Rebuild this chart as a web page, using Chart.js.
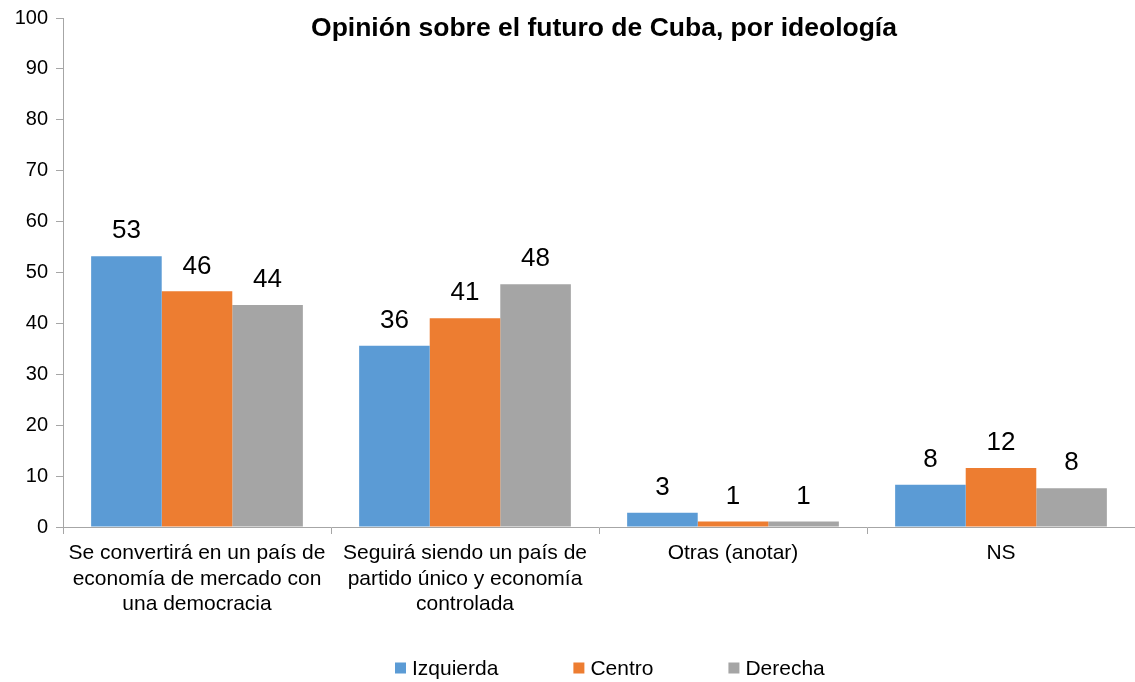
<!DOCTYPE html>
<html>
<head>
<meta charset="utf-8">
<script src="https://cdn.jsdelivr.net/npm/chart.js@4"></script>
<style>
  html, body { margin: 0; padding: 0; background: #fff; }
  #wrap { width: 1135px; height: 682px; }
</style>
</head>
<body>
<div id="wrap"><canvas id="chart"></canvas></div>
<script>
const categories = [
    ['Se convertirá en un país de', 'economía de mercado con', 'una democracia'],
    ['Seguirá siendo un país de', 'partido único y economía', 'controlada'],
    'Otras (anotar)',
    'NS'
];
const izquierda = [53.2, 35.6, 2.8, 8.3];
const centro = [46.3, 41.0, 1.1, 11.6];
const derecha = [43.6, 47.7, 1.1, 7.6];
const yTicks = [0, 10, 20, 30, 40, 50, 60, 70, 80, 90, 100];
const chartTitle = 'Opinión sobre el futuro de Cuba, por ideología';

const FONT = '"Liberation Sans", Arial, Helvetica, sans-serif';
const AXIS = '#A6A6A6';

// value labels over the bars
const valueLabels = {
    id: 'valueLabels',
    afterDatasetsDraw(chart) {
        const ctx = chart.ctx;
        ctx.save();
        ctx.font = '26px ' + FONT;
        ctx.fillStyle = '#000';
        ctx.textAlign = 'center';
        ctx.textBaseline = 'bottom';
        chart.data.datasets.forEach((ds, i) => {
            chart.getDatasetMeta(i).data.forEach((bar, j) => {
                ctx.fillText(Math.round(ds.data[j]), bar.x, bar.y - 12);
            });
        });
        ctx.restore();
    }
};

// title over the plot area and legend at the bottom
const titleAndLegend = {
    id: 'titleAndLegend',
    afterDraw(chart) {
        const ctx = chart.ctx;
        ctx.save();
        ctx.font = 'bold 26.5px ' + FONT;
        ctx.fillStyle = '#000';
        ctx.textAlign = 'center';
        ctx.textBaseline = 'middle';
        ctx.fillText(chartTitle, 604, 29);

        ctx.font = '21px ' + FONT;
        ctx.textAlign = 'left';
        const box = 11, gap = 6, spacing = 75;
        const items = chart.data.datasets.map(ds => ({
            text: ds.label, color: ds.backgroundColor,
            w: box + gap + ctx.measureText(ds.label).width
        }));
        let x = 395;
        const y = 668;
        items.forEach(it => {
            ctx.fillStyle = it.color;
            ctx.fillRect(x, y - box / 2, box, box);
            ctx.fillStyle = '#000';
            ctx.fillText(it.text, x + box + gap, y + 1);
            x += it.w + spacing;
        });
        ctx.restore();
    }
};

const ctx = document.getElementById('chart').getContext('2d');
new Chart(ctx, {
    type: 'bar',
    data: {
        labels: categories,
        datasets: [
            { label: 'Izquierda', data: izquierda, backgroundColor: '#5B9BD5' },
            { label: 'Centro', data: centro, backgroundColor: '#ED7D31' },
            { label: 'Derecha', data: derecha, backgroundColor: '#A5A5A5' }
        ]
    },
    options: {
        responsive: true,
        maintainAspectRatio: false,
        animation: false,
        categoryPercentage: 0.79,
        barPercentage: 1.0,
        layout: { padding: { top: 18, right: 0, bottom: 0, left: 0 } },
        plugins: {
            legend: { display: false },
            title: { display: false },
            tooltip: { enabled: false }
        },
        scales: {
            x: {
                grid: { drawOnChartArea: false, color: AXIS, tickLength: 7, offset: true },
                border: { color: AXIS, width: 1 },
                ticks: {
                    color: '#000',
                    font: { family: FONT, size: 21, lineHeight: 1.2 },
                    padding: 7,
                    maxRotation: 0,
                    autoSkip: false
                },
                afterFit(scale) { scale.height = 155; }
            },
            y: {
                min: 0,
                max: 100,
                afterBuildTicks(scale) { scale.ticks = yTicks.map(v => ({ value: v })); },
                grid: { drawOnChartArea: false, color: AXIS, tickLength: 7 },
                border: { color: AXIS, width: 1 },
                ticks: {
                    color: '#000',
                    font: { family: FONT, size: 20, lineHeight: 1 },
                    padding: 8
                },
                afterFit(scale) { scale.width = 63; }
            }
        }
    },
    plugins: [valueLabels, titleAndLegend]
});
</script>
</body>
</html>
